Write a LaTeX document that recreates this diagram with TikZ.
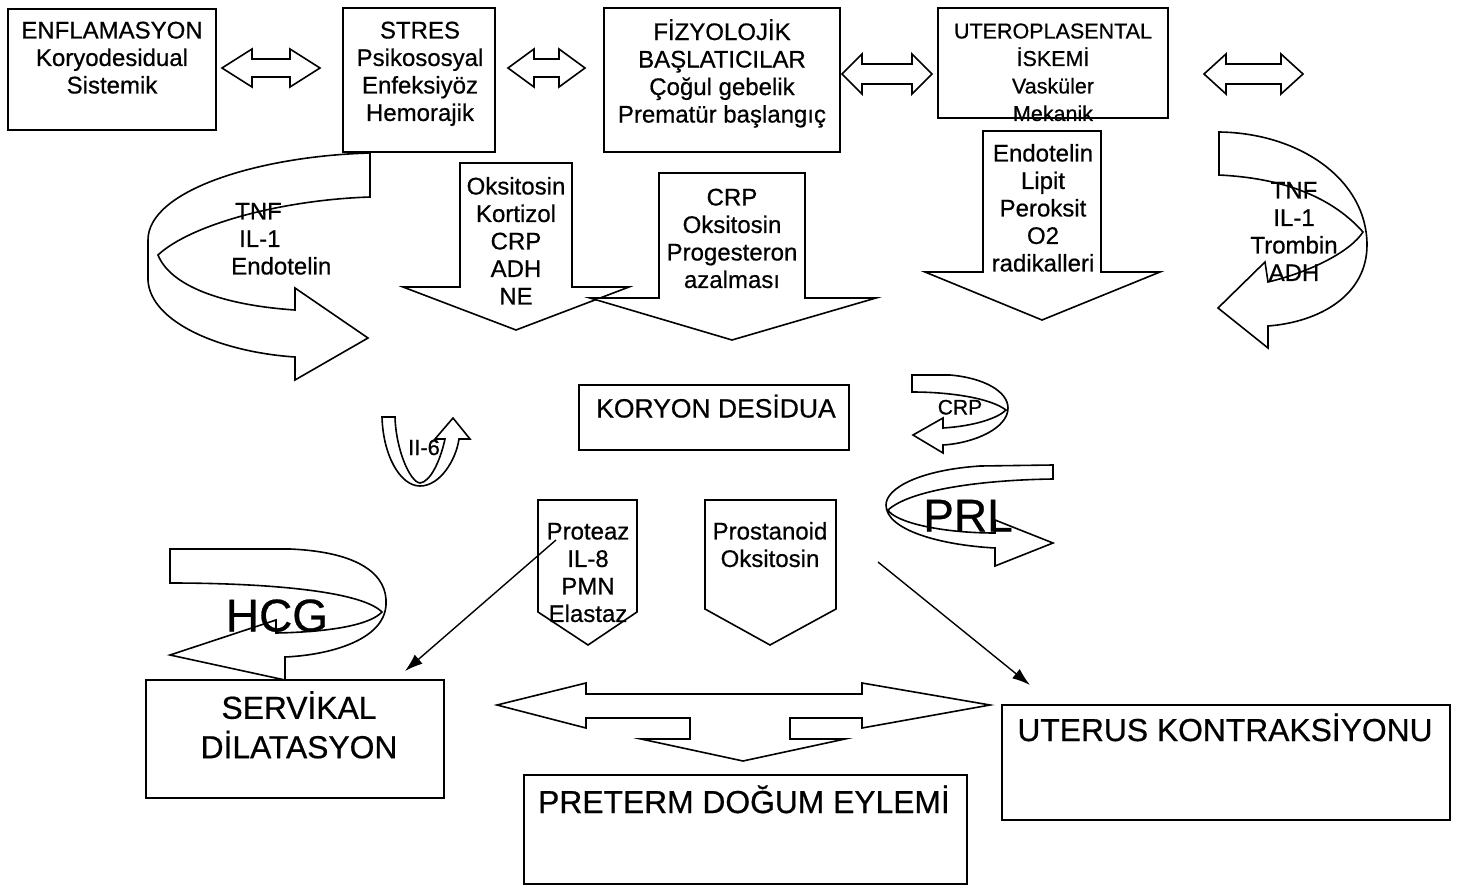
\documentclass[tikz,border=0pt]{standalone}
\usepackage{fontspec}
\setmainfont{Liberation Sans}[FakeBold=0.6]
\usetikzlibrary{arrows.meta}
\newcommand\fsA{\fontsize{24}{27.5}\selectfont}
\newcommand\fsU{\fontsize{21.5}{27.5}\selectfont}
\newcommand\fsB{\fontsize{31.8}{36}\selectfont}
\newcommand\dblarr[6]{%
 \draw[shp] (#1,#3) -- ({#1+#4},{#3-#5}) -- ({#1+#4},{#3-#6}) -- ({#2-#4},{#3-#6}) -- ({#2-#4},{#3-#5}) -- (#2,#3) -- ({#2-#4},{#3+#5}) -- ({#2-#4},{#3+#6}) -- ({#1+#4},{#3+#6}) -- ({#1+#4},{#3+#5}) -- cycle;}
\begin{document}
\begin{tikzpicture}[x=1pt,y=-1pt,line join=miter,
  shp/.style={draw=black,fill=white,line width=1.6pt},
  txt/.style={align=center,inner sep=0pt,anchor=north,font=\fsA},
  one/.style={inner sep=0pt,anchor=base},
  conn/.style={line width=1.4pt,-{Latex[length=18pt,width=12pt]}}]
\useasboundingbox (0,0) rectangle (1460,886);
\fill[white] (0,0) rectangle (1460,886);

% top boxes
\draw[shp] (8,9) rectangle (216,130);
\draw[shp] (343,8) rectangle (495,152);
\draw[shp] (604,8) rectangle (840,152);
\draw[shp] (938,8) rectangle (1168,118);

% double arrows
\dblarr{222}{320}{68}{30}{19}{9}
\dblarr{508}{585}{68}{26}{19}{9}
\dblarr{842}{932}{74}{20}{20}{10}
\dblarr{1204}{1303}{74}{22}{20}{10}

% left big curved arrow
\draw[shp] (370,153) .. controls (260,156) and (148,190) .. (148,240) -- (148,280)
  .. controls (150,322) and (220,352) .. (295,357) -- (295,380) -- (368,338) -- (295,288) -- (295,310)
  .. controls (220,305) and (170,285) .. (158,255)
  .. controls (190,225) and (280,200) .. (370,197) -- cycle;

% down block arrows
\draw[shp] (460,163) -- (572,163) -- (572,287) -- (629,287) -- (516,330) -- (403,287) -- (460,287) -- cycle;
\draw[shp] (659,173) -- (805,173) -- (805,298) -- (876,298) -- (732,340) -- (590,298) -- (659,298) -- cycle;
\draw[shp] (983,131) -- (1101,131) -- (1101,272) -- (1160,272) -- (1042,320) -- (925,272) -- (983,272) -- cycle;

% right big curved arrow
\draw[shp] (1219,132) .. controls (1300,133) and (1367,180) .. (1367,245)
  .. controls (1367,295) and (1320,322) .. (1268,326) -- (1268,348) -- (1218,308) -- (1265,262) -- (1268,282)
  .. controls (1310,272) and (1350,252) .. (1363,232)
  .. controls (1330,195) and (1280,178) .. (1219,175) -- cycle;

% middle box
\draw[shp] (579,385) rectangle (849,450);

% II-6 U arrow
\draw[shp] (382,417) .. controls (383,455) and (400,486) .. (420,486) .. controls (440,486) and (456,460) .. (459,439)
  -- (470,439) -- (453,418) -- (435,439) -- (445,439)
  .. controls (440,462) and (430,482) .. (420,483) .. controls (410,482) and (396,450) .. (395,417) -- cycle;

% CRP curl
\draw[shp] (912,375) -- (950,375) .. controls (985,378) and (1008,392) .. (1008,408)
  .. controls (1008,428) and (975,443) .. (943,445) -- (943,453) -- (913,435) -- (943,418) -- (943,428)
  .. controls (975,426) and (998,418) .. (1006,410)
  .. controls (990,398) and (950,392) .. (912,392) -- cycle;

% PRL curl
\draw[shp] (1053,465) -- (980,466) .. controls (920,470) and (886,488) .. (886,505)
  .. controls (886,530) and (940,545) .. (995,548) -- (995,566) -- (1053,543) -- (995,520) -- (995,533)
  .. controls (940,533) and (895,522) .. (888,510)
  .. controls (910,490) and (980,480) .. (1053,479) -- cycle;

% HCG curl
\draw[shp] (170,549) -- (290,549) .. controls (360,552) and (388,575) .. (386,605)
  .. controls (384,640) and (330,655) .. (285,657) -- (285,680) -- (170,655) -- (276,620) -- (276,633)
  .. controls (330,632) and (370,625) .. (382,612)
  .. controls (360,590) and (260,583) .. (170,583) -- cycle;

% pentagons
\draw[shp] (538,500) -- (637,500) -- (637,612) -- (588,645) -- (538,612) -- cycle;
\draw[shp] (705,500) -- (836,500) -- (836,609) -- (770,645) -- (705,609) -- cycle;

% bottom three-way arrow
\draw[shp] (497,705) -- (586,683) -- (586,694) -- (862,694) -- (862,683) -- (990,705) -- (862,728) -- (862,718)
  -- (790,718) -- (790,739) -- (845,739) -- (743,761) -- (641,739) -- (690,739) -- (690,718)
  -- (586,718) -- (586,728) -- cycle;

% bottom boxes
\draw[shp] (146,680) rectangle (444,798);
\draw[shp] (524,775) rectangle (967,884);
\draw[shp] (1002,705) rectangle (1450,820);

% connectors
\coordinate (p1s) at (556,540);
\coordinate (p1e) at (405,671);
\coordinate (p2s) at (878,562);
\coordinate (p2e) at (1030,685);
\draw[conn] (p1s) -- (p1e);
\draw[conn] (p2s) -- (p2e);

% texts
\node[txt] (tenfl) at (112,19) {\strut ENFLAMASYON\\Koryodesidual\\Sistemik};
\node[txt] (tstres) at (420,19) {\strut STRES\\Psikososyal\\Enfeksiyöz\\Hemorajik};
\node[txt] (tfiz) at (722,19) {\strut FİZYOLOJİK\\BAŞLATICILAR\\Çoğul gebelik\\Prematür başlangıç};
\node[txt,font=\fsU] (tutero) at (1053,19) {\strut UTEROPLASENTAL\\İSKEMİ\\Vasküler\\Mekanik};
\node[txt] (tok) at (516,175) {\strut Oksitosin\\Kortizol\\CRP\\ADH\\NE};
\node[txt] (tcrp) at (732,186) {\strut CRP\\Oksitosin\\Progesteron\\azalması};
\node[txt] (tendo) at (1043,142) {\strut Endotelin\\Lipit\\Peroksit\\O2\\radikalleri};
\node[txt,align=left,anchor=north west] (ttnfl) at (231,200) {\strut \,TNF\\\,\,IL-1\\Endotelin};
\node[txt] (ttnfr) at (1294,179) {\strut TNF\\IL-1\\Trombin\\ADH};
\node[one,font=\fontsize{26.5}{30}\selectfont] (tkor) at (716,417.5) {KORYON DESİDUA};
\node[one,font=\fontsize{21}{25}\selectfont] (tcrps) at (960,414.5) {CRP};
\node[one,font=\fontsize{22}{26}\selectfont] (til6) at (424,455) {II-6};
\node[one,font=\fontsize{46}{50}\selectfont] (tprl) at (968,531.5) {PRL};
\node[one,font=\fontsize{46}{50}\selectfont] (thcg) at (277,631.5) {HCG};
\node[txt] (tprot) at (588,520) {\strut Proteaz\\IL-8\\PMN\\Elastaz};
\node[txt] (tpros) at (770,520) {\strut Prostanoid\\Oksitosin};
\node[txt,font=\fsB] (tserv) at (299,691) {\strut SERVİKAL\\DİLATASYON};
\node[one,font=\fsB] (tuter) at (1225,741) {UTERUS KONTRAKSİYONU};
\node[one,font=\fsB] (tpret) at (744,813) {PRETERM DOĞUM EYLEMİ};
\end{tikzpicture}
\end{document}
